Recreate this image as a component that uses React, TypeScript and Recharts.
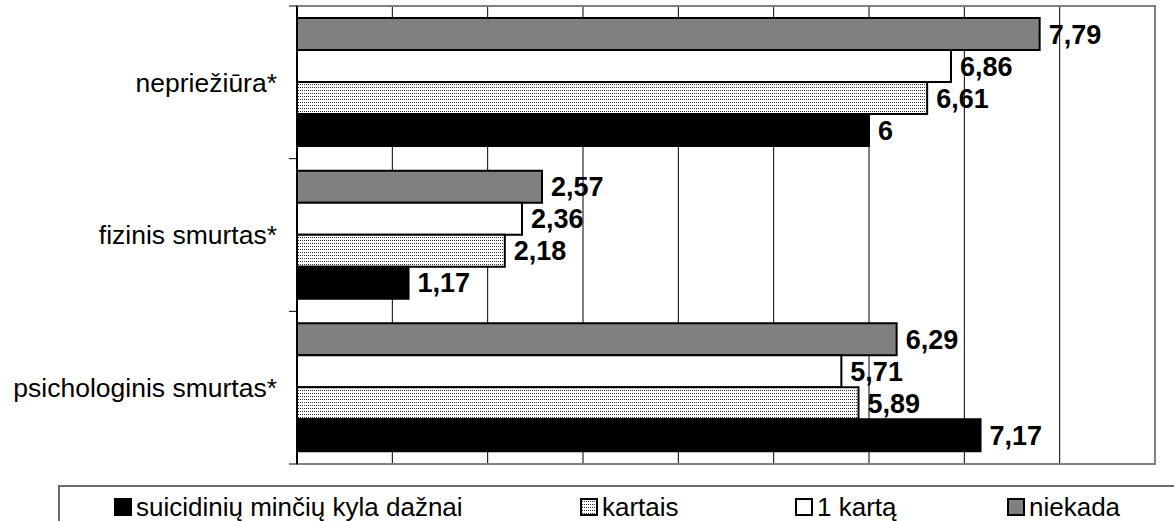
import { BarChart, Bar, XAxis, YAxis, CartesianGrid, LabelList, ReferenceArea } from 'recharts'

const CATEGORIES = ['nepriežiūra*', 'fizinis smurtas*', 'psichologinis smurtas*']
const NIEKADA = [7.79, 2.57, 6.29]
const VIENA_KARTA = [6.86, 2.36, 5.71]
const KARTAIS = [6.61, 2.18, 5.89]
const DAZNAI = [6, 1.17, 7.17]
const X_TICKS = [0, 1, 2, 3, 4, 5, 6, 7, 8, 9]

const FONT = '"Liberation Sans", Arial, Helvetica, sans-serif'

// drawn top to bottom inside each category
const SERIES = [
  { key: 'niekada', name: 'niekada', fill: '#808080' },
  { key: 'kartas', name: '1 kartą', fill: '#FFFFFF' },
  { key: 'kartais', name: 'kartais', fill: 'url(#dots)' },
  { key: 'daznai', name: 'suicidinių minčių kyla dažnai', fill: '#000000' },
]

// legend goes the other way round
const LEGEND_ORDER = ['daznai', 'kartais', 'kartas', 'niekada']
const LEGEND_LEFT = [54, 520, 735, 947]

const data = CATEGORIES.map((category, i) => ({
  category,
  niekada: NIEKADA[i],
  kartas: VIENA_KARTA[i],
  kartais: KARTAIS[i],
  daznai: DAZNAI[i],
}))

const fmt = (v: any) => String(v).replace('.', ',')

function DotPattern({ id }: { id: string }) {
  return (
    <pattern id={id} width="2" height="3" patternUnits="userSpaceOnUse">
      <rect width="2" height="3" fill="#fff" />
      <rect width="1" height="1" fill="#333" />
    </pattern>
  )
}

function CategoryTick(props: any) {
  const { x, y, payload, index } = props
  const half = payload?.offset ?? 76
  const last = index === CATEGORIES.length - 1
  return (
    <g>
      <text x={x} y={y} dy="0.35em" textAnchor="end" fontSize={26.5} fontFamily={FONT} fill="#000">
        {payload.value}
      </text>
      <line x1={x + 12} x2={x + 20} y1={y - half} y2={y - half} stroke="#000" />
      {last && <line x1={x + 12} x2={x + 20} y1={y + half} y2={y + half} stroke="#000" />}
    </g>
  )
}

function Swatch({ fill }: { fill: string }) {
  return (
    <svg width={18} height={18} style={{ verticalAlign: 'middle', marginRight: 4 }}>
      <defs>
        <DotPattern id="dots-legend" />
      </defs>
      <rect
        x={1}
        y={1}
        width={16}
        height={16}
        fill={fill === 'url(#dots)' ? 'url(#dots-legend)' : fill}
        stroke="#000"
        strokeWidth={2}
      />
    </svg>
  )
}

export default function App() {
  return (
    <div style={{ position: 'absolute', left: 0, top: 0, width: 1174, height: 521, overflow: 'hidden', background: '#fff' }}>
      <BarChart
        width={1174}
        height={521}
        data={data}
        layout="vertical"
        margin={{ top: 6, right: 19, bottom: 57, left: 0 }}
        barCategoryGap={12}
        barGap={0}
      >
        <defs>
          <DotPattern id="dots" />
        </defs>
        <CartesianGrid horizontal={false} stroke="#000" strokeWidth={1} />
        <XAxis type="number" domain={[0, 9]} ticks={X_TICKS} hide />
        <YAxis
          type="category"
          dataKey="category"
          width={297}
          tickLine={false}
          tickSize={8}
          tickMargin={12}
          axisLine={{ stroke: '#000', strokeWidth: 2 }}
          tick={<CategoryTick />}
        />
        <ReferenceArea x1={0} x2={9} fill="none" stroke="#808080" strokeWidth={2} />
        {SERIES.map((s) => (
          <Bar key={s.key} dataKey={s.key} name={s.name} fill={s.fill} stroke="#000" strokeWidth={2} isAnimationActive={false}>
            <LabelList
              dataKey={s.key}
              position="right"
              offset={9}
              formatter={fmt}
              fontSize={27}
              fontWeight={700}
              fontFamily={FONT}
              fill="#000"
            />
          </Bar>
        ))}
      </BarChart>
      <div
        style={{
          position: 'absolute',
          left: 58,
          top: 485,
          width: 1160,
          height: 60,
          borderTop: '2px solid #6b6b6b',
          borderLeft: '2px solid #6b6b6b',
          fontFamily: FONT,
          fontSize: 26,
          color: '#000',
        }}
      >
        {LEGEND_ORDER.map((key, i) => {
          const s = SERIES.find((x) => x.key === key)!
          return (
            <div key={key} style={{ position: 'absolute', left: LEGEND_LEFT[i], top: 4, whiteSpace: 'nowrap', lineHeight: '28px' }}>
              <Swatch fill={s.fill} />
              <span style={{ verticalAlign: 'middle' }}>{s.name}</span>
            </div>
          )
        })}
      </div>
    </div>
  )
}
